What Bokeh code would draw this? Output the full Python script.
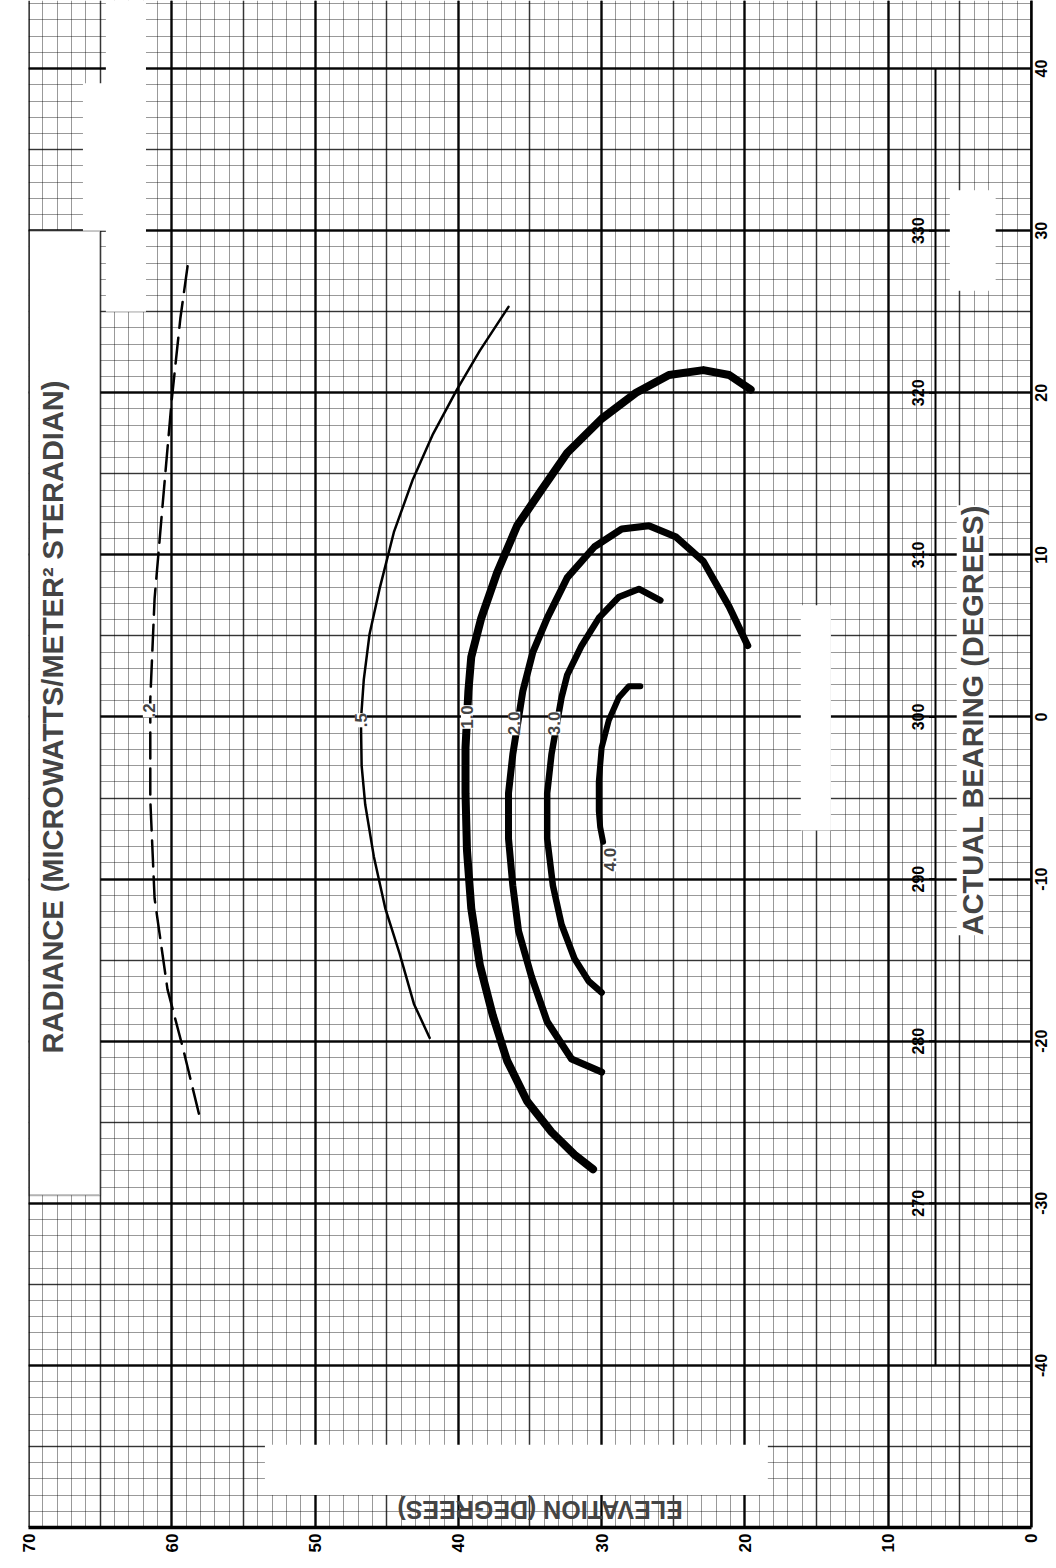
import math
import numpy as np
from bokeh.plotting import figure
from bokeh.models import (Range1d, LinearAxis, FixedTicker, Grid, BoxAnnotation,
                          Label, Span, ColumnDataSource)
from bokeh.core.properties import value
from bokeh.embed import file_html
from bokeh.resources import INLINE

# ---------------- data ----------------
elev_ticks = [70, 60, 50, 40, 30, 20, 10, 0]
bear_ticks = [40, 30, 20, 10, 0, -10, -20, -30, -40]
compass_bear = [30, 20, 10, 0, -10, -20, -30]
compass_labels = ["330", "320", "310", "300", "290", "280", "270"]

# radiance contours: elevation (deg) and actual bearing (deg)
elev_02 = [58.9, 59.4, 60.0, 60.6, 61.2, 61.5, 61.5, 61.2, 60.3, 59.2, 58.1]
bear_02 = [27.8, 24.6, 19.6, 13.5, 7.3, 1.1, -5.1, -11.2, -16.8, -20.5, -24.5]

elev_05 = [36.5, 38.5, 40.1, 41.8, 43.2, 44.5, 45.5, 46.2, 46.6, 46.8, 46.75, 46.5, 45.9, 45.1, 44.1, 43.1, 42.0]
bear_05 = [25.3, 22.6, 20.2, 17.4, 14.6, 11.4, 7.9, 5.1, 2.3, -0.2, -3.0, -5.4, -8.6, -11.8, -14.6, -17.7, -19.8]

elev_10 = [19.6, 21.1, 22.9, 25.3, 27.6, 30.0, 32.4, 34.2, 35.9, 37.3, 38.4, 39.1, 39.3,
           39.5, 39.5, 39.4, 39.1, 38.5, 37.6, 36.6, 35.2, 33.5, 31.9, 30.6]
bear_10 = [20.2, 21.1, 21.4, 21.1, 20.0, 18.4, 16.3, 14.0, 11.8, 8.9, 6.1, 3.7, 1.6,
           -1.9, -4.7, -8.2, -11.8, -15.3, -18.4, -21.2, -23.7, -25.6, -27.0, -27.9]

elev_20 = [19.8, 21.1, 22.9, 24.8, 26.7, 28.6, 30.5, 32.4, 33.8, 34.8, 35.5,
           36.2, 36.5, 36.5, 36.2, 35.8, 34.9, 33.8, 32.1, 30.0]
bear_20 = [4.4, 6.8, 9.6, 11.1, 11.8, 11.6, 10.5, 8.6, 6.1, 4.0, 1.6,
           -2.3, -4.7, -7.5, -10.4, -13.2, -16.0, -18.8, -21.1, -21.9]

elev_30 = [25.9, 27.4, 28.8, 30.2, 31.4, 32.4, 32.8, 33.5, 33.8, 33.8, 33.4, 32.8, 31.9, 30.9, 30.0]
bear_30 = [7.2, 7.9, 7.4, 6.1, 4.4, 2.6, 1.2, -2.3, -4.7, -7.5, -10.4, -12.8, -14.9, -16.3, -17.0]

elev_40 = [27.3, 28.1, 28.8, 29.5, 30.0, 30.2, 30.2, 30.1, 29.9]
bear_40 = [1.9, 1.9, 1.2, -0.2, -1.9, -4.0, -5.8, -6.8, -7.7]

levels = [".2", ".5", "1.0", "2.0", "3.0", "4.0"]
label_elev = [61.6, 46.8, 39.4, 36.1, 33.3, 29.4]
label_bear = [0.4, -0.2, 0.0, -0.4, -0.4, -8.8]

# ---------------- figure ----------------
W, H = 1052, 1564
X_END = -1.466          # small margin right of the 0-deg line for the bearing labels
p = figure(width=W, height=H, output_backend="svg", toolbar_location=None,
           x_axis_location=None, y_axis_location=None,
           x_range=Range1d(70, X_END), y_range=Range1d(-50, 44.2),
           min_border_left=28, min_border_right=0, min_border_top=0,
           min_border_bottom=37)
p.center = []
p.outline_line_color = None
p.background_fill_color = "white"
p.border_fill_color = "white"

# graph-paper grid
for step, w, a in [(1, 1.0, 0.4), (5, 1.6, 0.65), (10, 2.4, 0.88)]:
    xt = FixedTicker(ticks=[float(v) for v in np.arange(0, 71, step)])
    yt = FixedTicker(ticks=[float(v) for v in np.arange(-50, 45, step)])
    p.add_layout(Grid(dimension=0, ticker=xt, grid_line_color="black",
                      grid_line_alpha=a, grid_line_width=w))
    p.add_layout(Grid(dimension=1, ticker=yt, grid_line_color="black",
                      grid_line_alpha=a, grid_line_width=w))

FONT_S = "Liberation Sans"
FONT = value(FONT_S)

# white masking patches of the scanned sheet
patches = [
    dict(left=70, right=65.0, top=30.0, bottom=-29.5, line_color="black", line_width=2),
    dict(left=64.6, right=61.8, top=44.2, bottom=25.0, line_color=None, line_width=0),
    dict(left=66.2, right=64.4, top=39.1, bottom=30.0, line_color=None, line_width=0),
    dict(left=53.5, right=18.4, top=-44.9, bottom=-48.0, line_color=None, line_width=0),
    dict(left=16.1, right=14.0, top=6.9, bottom=-7.0, line_color=None, line_width=0),
    dict(left=5.7, right=2.5, top=32.5, bottom=26.3, line_color=None, line_width=0),
    dict(left=0, right=X_END, top=44.2, bottom=-50, line_color=None, line_width=0),
]
for b in patches:
    p.add_layout(BoxAnnotation(left=b["left"], right=b["right"], top=b["top"],
                               bottom=b["bottom"], fill_color="white", fill_alpha=1.0,
                               line_color=b["line_color"], line_width=b["line_width"]))

p.add_layout(Span(location=70, dimension="height", line_color="black", line_width=2.5))
p.add_layout(Span(location=0, dimension="height", line_color="black", line_width=2.5))

# contours
curves = [
    (elev_02, bear_02, 2.5, "26 10"),
    (elev_05, bear_05, 2.5, "solid"),
    (elev_10, bear_10, 8.0, "solid"),
    (elev_20, bear_20, 7.0, "solid"),
    (elev_30, bear_30, 6.5, "solid"),
    (elev_40, bear_40, 6.0, "solid"),
]
for ex, by, lw, dash in curves:
    p.line(ex, by, line_color="black", line_width=lw, line_dash=dash,
           line_cap="round", line_join="round")

for t, ex, by in zip(levels, label_elev, label_bear):
    p.add_layout(Label(x=ex, y=by, text=t, angle=math.pi / 2, text_font=FONT_S,
                       text_font_style="bold", text_font_size="17px",
                       text_align="center", text_baseline="middle",
                       background_fill_color="white", background_fill_alpha=1.0))

# compass-bearing scale
CX = 6.7
p.line([CX, CX], [min(bear_ticks), max(bear_ticks)], line_color="black", line_width=2)
p.segment(x0=[CX] * len(compass_bear), y0=compass_bear,
          x1=[CX + 0.45] * len(compass_bear), y1=compass_bear,
          line_color="black", line_width=2)
src = ColumnDataSource(dict(x=[CX + 1.25] * len(compass_bear), y=compass_bear, t=compass_labels))
p.text(x="x", y="y", text="t", source=src, angle=math.pi / 2, text_font=FONT,
       text_font_style="bold", text_font_size="16px", text_align="center",
       text_baseline="middle", text_color="black")

# titles
p.add_layout(Label(x=68.3, y=0.0, text="RADIANCE (MICROWATTS/METER\u00b2 STERADIAN)",
                   angle=math.pi / 2, text_font=FONT_S, text_font_style="bold",
                   text_font_size="29px", text_align="center", text_baseline="middle",
                   background_fill_color="white", background_fill_alpha=1.0))
p.add_layout(Label(x=4.1, y=-0.2, text="ACTUAL BEARING (DEGREES)",
                   angle=math.pi / 2, text_font=FONT_S, text_font_style="bold",
                   text_font_size="29px", text_align="center", text_baseline="middle",
                   background_fill_color="white", background_fill_alpha=1.0))
p.add_layout(Label(x=34.3, y=-48.95, text="ELEVATION (DEGREES)",
                   angle=math.pi, text_font=FONT_S, text_font_style="bold",
                   text_font_size="25px", text_align="center", text_baseline="middle"))

# bottom axis (elevation)
xa = LinearAxis(ticker=FixedTicker(ticks=elev_ticks), bounds=(0, 70),
                major_label_orientation=math.pi / 2,
                axis_line_color="black", axis_line_width=3.5, major_tick_out=0,
                major_tick_in=0, minor_tick_out=0, minor_tick_in=0,
                major_label_text_font=FONT_S, major_label_text_font_style="bold",
                major_label_text_font_size="17px", major_label_text_color="black",
                major_label_standoff=6)
p.add_layout(xa, "below")

# right-hand bearing labels (rotated like the sheet), placed at the bearing ticks
for v in bear_ticks:
    p.add_layout(Label(x=0, y=v, text=str(v), x_offset=4, angle=math.pi / 2,
                       text_font=FONT_S, text_font_style="bold", text_font_size="16px",
                       text_align="center", text_baseline="top", text_color="black"))

open("out.html", "w").write(file_html(p, INLINE))
